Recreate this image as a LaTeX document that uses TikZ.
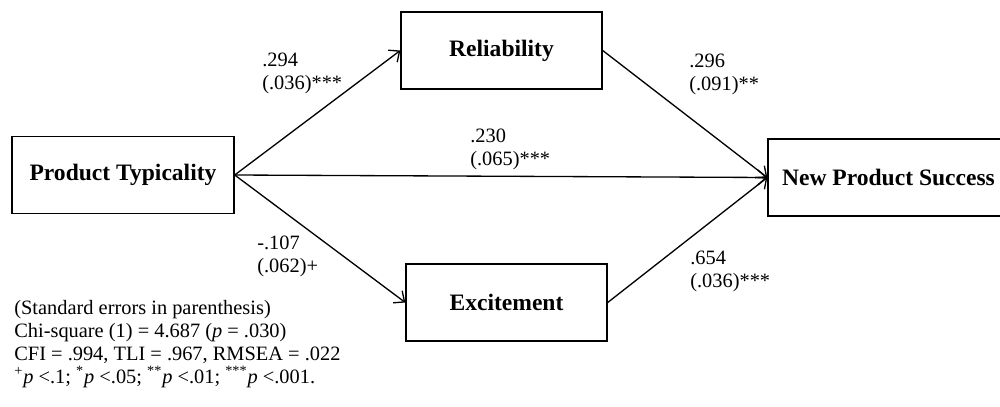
\documentclass[tikz,border=0pt]{standalone}
\usepackage{fontspec}
\setmainfont{Liberation Serif}
\usetikzlibrary{calc, arrows.meta}
\tikzset{
    my-box/.style={
        draw, line width=0.8pt, inner sep=0pt, minimum height=15.4mm, font=\fontsize{13.4}{15}\selectfont\bfseries
    },
    my-path/.style={
        -{Straight Barb[length=1.7mm, width=3mm]}, line width=0.75pt
    },
    my-coef/.style={
        anchor=base west, align=left, inner sep=0pt, font={\fontsize{11.6}{13}\selectfont}
    },
}
\newcommand{\sig}[1]{\smash{\textsuperscript{#1}}}

\begin{document}
\begin{tikzpicture}[x=0.2mm, y=-0.2mm]

        \useasboundingbox (0,0) rectangle (1000,406);

        % VARIABLES
        \node[my-box, minimum width=44.4mm] (PT)  at (123,175)     {Product Typicality};
        \node[my-box, minimum width=40.2mm] (REL) at (501.5,50.5)  {Reliability};
        \node[my-box, minimum width=40.2mm] (EXC) at (506.5,302.5) {Excitement};
        \node[my-box, minimum width=48.2mm] (NPS) at (888.5,177.5) {New Product Success};

        % PATHS
        \draw[my-path] (PT.east)  -- (REL.west);
        \draw[my-path] (PT.east)  -- (EXC.west);
        \draw[my-path] (PT.east)  -- (NPS.west);
        \draw[my-path] (REL.east) -- (NPS.west);
        \draw[my-path] (EXC.east) -- (NPS.west);

        % COEFFICIENTS (base = last line)
        \node[my-coef] (C1) at (262,89)  {.294\\(.036)***};
        \node[my-coef] (C2) at (257,272) {-.107\\(.062)+};
        \node[my-coef] (C3) at (470,165) {.230\\(.065)***};
        \node[my-coef] (C4) at (689,90)  {.296\\(.091)**};
        \node[my-coef] (C5) at (690,287) {.654\\(.036)***};

        % FIT NOTES
        \node[my-coef] (NOTE) at (14,383) {(Standard errors in parenthesis)\\
            Chi-square (1) = 4.687 (\textit{p} = .030)\\
            CFI = .994, TLI = .967, RMSEA = .022\\
            \sig{+}\textit{p} <.1; \sig{*}\textit{p} <.05; \sig{**}\textit{p} <.01; \sig{***}\textit{p} <.001.};

    \end{tikzpicture}
\end{document}
